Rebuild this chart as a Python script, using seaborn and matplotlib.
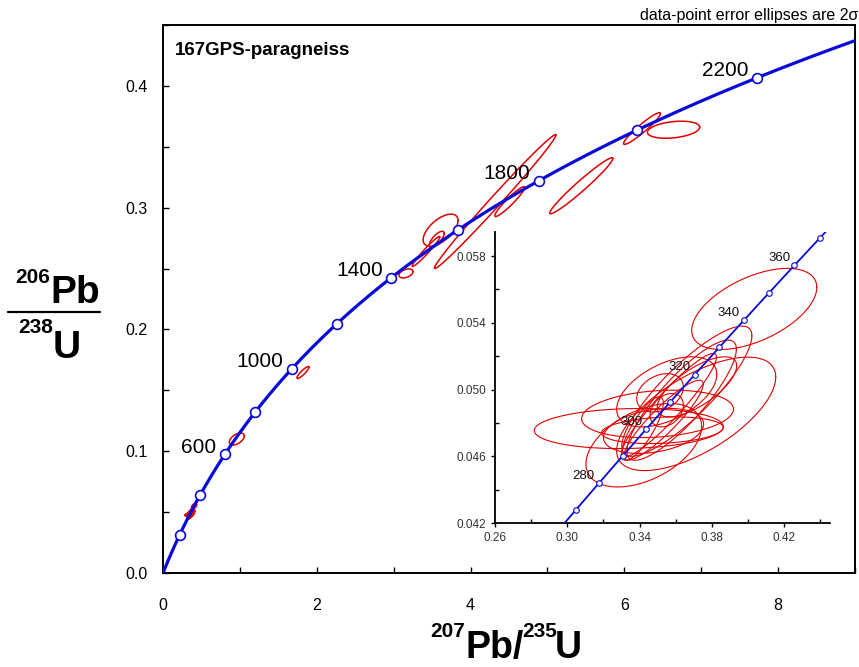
import numpy as np
import matplotlib
matplotlib.use('Agg')
import matplotlib.pyplot as plt
from matplotlib.lines import Line2D
from matplotlib.ticker import MultipleLocator, FormatStrFormatter
import seaborn as sns

sns.set_style('ticks', {'text.color': 'black', 'axes.edgecolor': 'black',
                        'xtick.color': 'black', 'ytick.color': 'black'})
plt.rcParams['font.family'] = ['Liberation Sans', 'DejaVu Sans']

# U decay constants (1/yr)
L238 = 1.55125e-10
L235 = 9.8485e-10

# concordia age marks (Ma)
main_ages = [200, 400, 600, 800, 1000, 1200, 1400, 1600, 1800, 2000, 2200]
main_labels = [600, 1000, 1400, 1800, 2200]
inset_ages = [270, 280, 290, 300, 310, 320, 330, 340, 350, 360, 370]
inset_labels = [280, 300, 320, 340, 360]

# inset tick positions
inset_xticks = [0.26, 0.30, 0.34, 0.38, 0.42]
inset_xminor = [0.28, 0.32, 0.36, 0.40, 0.44]
inset_yticks = [0.042, 0.046, 0.050, 0.054, 0.058]
inset_yminor = [0.044, 0.048, 0.052, 0.056]

# older grains: 207Pb/235U, 206Pb/238U, 2s errors, error correlation
old_x = [0.96, 1.82, 3.16, 3.61, 3.56, 3.42, 4.32, 4.51, 5.44, 6.23, 6.64]
old_y = [0.110, 0.1646, 0.246, 0.2815, 0.274, 0.264, 0.305, 0.305, 0.318, 0.365, 0.364]
old_ex = [0.097, 0.078, 0.091, 0.227, 0.097, 0.18, 0.79, 0.195, 0.41, 0.24, 0.34]
old_ey = [0.0049, 0.0049, 0.0037, 0.0132, 0.0066, 0.0123, 0.055, 0.0123, 0.023, 0.013, 0.007]
old_rho = [0.5, 0.89, 0.4, 0.6, 0.73, 0.97, 0.993, 0.945, 0.972, 0.945, 0.3]

# young (~300 Ma) grains shown in the inset
young_x = [0.4034, 0.3661, 0.3632, 0.334, 0.3499, 0.3713, 0.3423, 0.355,
           0.3513, 0.355, 0.3477, 0.3563, 0.3532, 0.3717, 0.3416, 0.3526]
young_y = [0.05483, 0.0499, 0.04936, 0.04766, 0.04854, 0.04854, 0.04666, 0.04986,
           0.0498, 0.04876, 0.04752, 0.04906, 0.04816, 0.05016, 0.04766, 0.04756]
young_ex = [0.0346, 0.036, 0.0303, 0.0523, 0.042, 0.044, 0.032, 0.0277,
            0.0129, 0.0092, 0.0277, 0.0262, 0.022, 0.022, 0.0115, 0.0337]
young_ey = [0.00243, 0.0039, 0.0036, 0.0012, 0.00142, 0.0034, 0.0025, 0.0021,
            0.00115, 0.001, 0.00135, 0.0031, 0.0024, 0.0018, 0.0019, 0.0008]
young_rho = [0.53, 0.85, 0.85, 0.1, 0.2, 0.65, 0.45, 0.5,
             0.3, 0.3, 0.3, 0.93, 0.9, 0.7, 0.8, 0.2]

BLUE = '#0a0ad8'
RED = '#e00000'
W, H = 859, 667


def concordia(ages_ma):
    t = np.asarray(ages_ma, dtype=float) * 1e6
    return np.exp(L235 * t) - 1, np.exp(L238 * t) - 1


def draw_ellipses(ax, xs, ys, exs, eys, rhos, lw):
    th = np.linspace(0, 2 * np.pi, 200)
    for x, y, ex, ey, r in zip(xs, ys, exs, eys, rhos):
        px = x + ex * np.cos(th)
        py = y + ey * (r * np.cos(th) + np.sqrt(1 - r ** 2) * np.sin(th))
        ax.plot(px, py, color=RED, lw=lw, zorder=2)


def fx(px):
    return px / W


def fy(py):
    return 1 - py / H


fig = plt.figure(figsize=(W / 100, H / 100), dpi=100)

# main diagram
ax = fig.add_axes([fx(163), fy(573), (855 - 163) / W, (573 - 25) / H])
cx, cy = concordia(np.linspace(0, 2400, 500))
draw_ellipses(ax, old_x, old_y, old_ex, old_ey, old_rho, 1.1)
draw_ellipses(ax, young_x, young_y, young_ex, young_ey, young_rho, 1.1)
sns.lineplot(x=cx, y=cy, sort=False, color=BLUE, lw=2.3, ax=ax, zorder=3)
mx, my = concordia(main_ages)
sns.scatterplot(x=mx, y=my, s=50, facecolor='white', edgecolor=BLUE,
                linewidth=1.2, ax=ax, zorder=4)
for age in main_labels:
    ax_, ay_ = concordia([age])
    ax.annotate(str(age), (ax_[0], ay_[0]), xytext=(-6, 1), textcoords='offset points',
                ha='right', va='baseline', fontsize=15)

ax.set_xlim(0, 9)
ax.set_ylim(0, 0.45)
ax.xaxis.set_major_locator(MultipleLocator(2))
ax.xaxis.set_minor_locator(MultipleLocator(1))
ax.yaxis.set_major_locator(MultipleLocator(0.1))
ax.yaxis.set_minor_locator(MultipleLocator(0.05))
ax.yaxis.set_major_formatter(FormatStrFormatter('%.1f'))
ax.tick_params(which='both', direction='in', length=4, width=1, labelsize=11.5,
               color='black', labelcolor='black')
ax.tick_params(axis='x', which='major', pad=18)
ax.tick_params(axis='y', which='major', pad=11)
for sp in ax.spines.values():
    sp.set_linewidth(1.4)
    sp.set_color('black')
ax.text(0.017, 0.969, '167GPS-paragneiss', transform=ax.transAxes,
        ha='left', va='top', fontsize=13.5, fontweight='bold', color='black')

# inset zoom on the ~300 Ma population
ins = fig.add_axes([fx(495), fy(523), 335 / W, 291 / H])
ins.set_facecolor('white')
ix, iy = concordia(np.linspace(250, 390, 200))
draw_ellipses(ins, young_x, young_y, young_ex, young_ey, young_rho, 0.8)
sns.lineplot(x=ix, y=iy, sort=False, color=BLUE, lw=1.3, ax=ins, zorder=3)
kx, ky = concordia(inset_ages)
sns.scatterplot(x=kx, y=ky, s=16, facecolor='white', edgecolor=BLUE,
                linewidth=0.8, ax=ins, zorder=4)
for age in inset_labels:
    ax_, ay_ = concordia([age])
    ins.annotate(str(age), (ax_[0], ay_[0]), xytext=(-3, 3), textcoords='offset points',
                 ha='right', va='baseline', fontsize=9.5, zorder=5, color='#111111')
ins.set_xlim(0.26, 0.4453)
ins.set_ylim(0.042, 0.05944)
ins.set_xticks(inset_xticks)
ins.set_xticks(inset_xminor, minor=True)
ins.set_yticks(inset_yticks)
ins.set_yticks(inset_yminor, minor=True)
ins.xaxis.set_major_formatter(FormatStrFormatter('%.2f'))
ins.yaxis.set_major_formatter(FormatStrFormatter('%.3f'))
ins.tick_params(which='major', direction='out', length=3, width=1,
                labelsize=8.5, labelcolor='#333333', color='black')
ins.tick_params(which='minor', direction='in', length=3, width=1, color='black')
ins.spines['top'].set_visible(False)
ins.spines['right'].set_visible(False)
for sp in ['left', 'bottom']:
    ins.spines[sp].set_linewidth(1.3)
    ins.spines[sp].set_color('black')

# axis titles drawn as stacked isotope ratios
fig.text(fx(50), fy(283), '206', fontsize=15, fontweight='bold', ha='right', va='baseline')
fig.text(fx(50), fy(303), 'Pb', fontsize=28, fontweight='bold', ha='left', va='baseline')
fig.add_artist(Line2D([fx(8), fx(100)], [fy(312), fy(312)], lw=1.6, color='black'))
fig.text(fx(53), fy(333), '238', fontsize=15, fontweight='bold', ha='right', va='baseline')
fig.text(fx(53), fy(358), 'U', fontsize=28, fontweight='bold', ha='left', va='baseline')

fig.text(fx(465), fy(637), '207', fontsize=15, fontweight='bold', ha='right', va='baseline')
fig.text(fx(465), fy(658), 'Pb/', fontsize=27, fontweight='bold', ha='left', va='baseline')
fig.text(fx(522), fy(637), '235', fontsize=15, fontweight='bold', ha='left', va='baseline')
fig.text(fx(555), fy(658), 'U', fontsize=27, fontweight='bold', ha='left', va='baseline')

fig.text(fx(858), fy(20), 'data-point error ellipses are 2σ', fontsize=11.5,
         ha='right', va='baseline')

fig.savefig('out.png', dpi=100)
